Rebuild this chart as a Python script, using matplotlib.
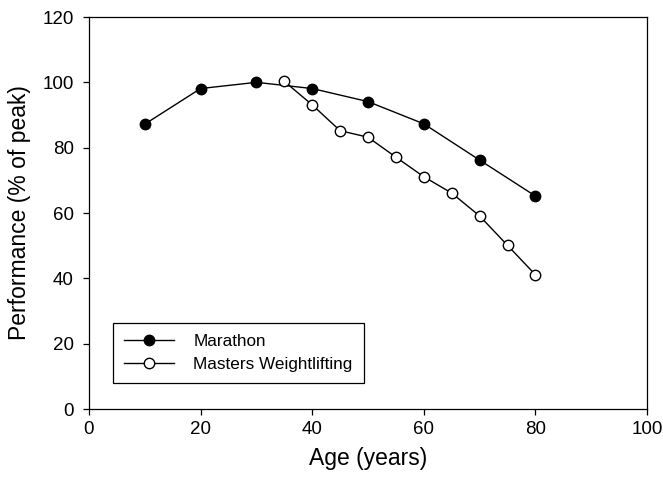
import matplotlib
matplotlib.use("Agg")
import matplotlib.pyplot as plt

# Performance vs age, marathon vs masters weightlifting
marathon_age = [10, 20, 30, 40, 50, 60, 70, 80]
marathon_perf = [87.2, 98.1, 100.0, 98.1, 94.1, 87.3, 76.2, 65.2]

lifting_age = [35, 40, 45, 50, 55, 60, 65, 70, 75, 80]
lifting_perf = [100.3, 93.1, 85.2, 83.2, 77.1, 71.1, 66.1, 59.1, 50.1, 41.1]

x_ticks = [0, 20, 40, 60, 80, 100]
y_ticks = [0, 20, 40, 60, 80, 100, 120]

plt.rcParams['font.family'] = ['Liberation Sans', 'DejaVu Sans']

fig = plt.figure(figsize=(6.63, 4.78), dpi=100)
ax = fig.add_axes([89 / 663, 1 - 409 / 478, 558 / 663, 392 / 478])

ax.plot(marathon_age, marathon_perf, color='black', linewidth=1.0,
        marker='o', markersize=7.5, markerfacecolor='black',
        markeredgecolor='black', markeredgewidth=1.0, label='Marathon', zorder=3)
ax.plot(lifting_age, lifting_perf, color='black', linewidth=1.0,
        marker='o', markersize=7.5, markerfacecolor='white',
        markeredgecolor='black', markeredgewidth=1.0,
        label='Masters Weightlifting', zorder=4)

ax.set_xlim(0, 100)
ax.set_ylim(0, 120)
ax.set_xticks(x_ticks)
ax.set_yticks(y_ticks)
ax.tick_params(axis='both', direction='out', length=4, width=0.9,
               labelsize=13.5, top=False, right=False)
ax.tick_params(axis='x', pad=5)
ax.tick_params(axis='y', pad=7)
for s in ax.spines.values():
    s.set_linewidth(0.9)

ax.set_xlabel('Age (years)', fontsize=16.5, labelpad=6)
ax.set_ylabel('Performance (% of peak)', fontsize=16.5, labelpad=8)

leg = ax.legend(loc='lower left', bbox_to_anchor=(0.043, 0.066),
                borderaxespad=0, fontsize=12.3, frameon=True, fancybox=False,
                edgecolor='black', framealpha=1, handlelength=2.9,
                handletextpad=1.15, borderpad=0.65, labelspacing=0.45)
leg.get_frame().set_linewidth(0.9)

fig.savefig('out.png', dpi=100)
